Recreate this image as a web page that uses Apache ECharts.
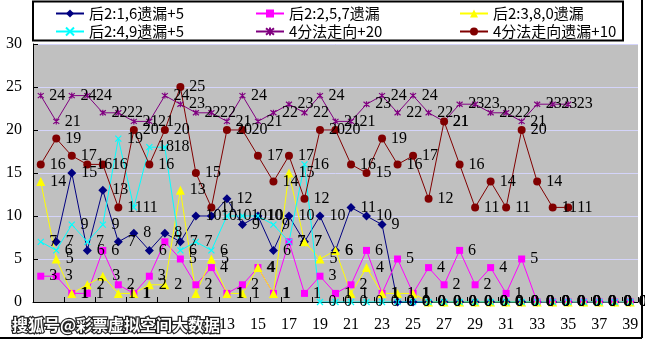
<!DOCTYPE html>
<html>
<head>
<meta charset="utf-8">
<script src="https://cdn.jsdelivr.net/npm/echarts@6/dist/echarts.min.js"></script>
<style>
  html, body { margin: 0; padding: 0; background: #fff; }
  #chart { width: 645px; height: 341px; }
</style>
</head>
<body>
<div id="chart"></div>
<script>
// Periods 1..39
const categories = Array.from({ length: 39 }, (_, i) => String(i + 1));

const seriesNames = [
  '后2:1,6遗漏+5',
  '后2:2,5,7遗漏',
  '后2:3,8,0遗漏',
  '后2:4,9遗漏+5',
  '4分法走向+20',
  '4分法走向遗漏+10'
];

const miss16 = [null, 7, 15, 6, 13, 7, 8, 6, 8, 7, 10, 10, 12, 9, 10, 6, 10, 7, 10, 6, 11, 10, 9,
  0, 0, 0, 0, 0, 0, 0, 0, 0, 0, 0, 0, 0, 0, 0, 0];
const miss257 = [3, 3, 1, 1, 6, 2, 1, 3, 7, 5, 2, 4, 1, 2, 4, 1, 7, 1, 3, 1, 2, 6, 1, 5, 1, 4, 2, 6, 2, 4, 1, 5,
  0, 0, 0, 0, 0, 0, 0];
const miss380 = [14, 5, 1, 2, 3, 1, 1, 2, 2, 13, 1, 5, 1, 1, 4, 1, 15, 7, 5, 6, 1, 4, 1, 1, 1,
  0, 0, 0, 0, 0, 0, 0, 0, 0, 0, 0, 0, 0, 0];
const miss49 = [7, 6, 9, 7, 9, 19, 11, 18, 18, 6, 7, 6, 10, 10, 10, 9, 7, 16,
  0, 0, 0, 0, 0, 0, 0, 0, 0, 0, 0, 0, 0, 0, 0, 0, 0, 0, 0, 0, 0];
const trend4 = [24, 21, 24, 24, 22, 22, 21, 21, 24, 23, 22, 22, 21, 24, 21, 22, 23, 22, 24, 21, 21, 23, 24, 22,
  24, 22, 21, 23, 23, 22, 22, 21, 23, 23, 23, null, null, null, null];
const trend4Miss = [16, 19, 17, 16, 16, 11, 20, 16, 20, 25, 15, 11, 20, 20, 17, 14, 17, 12, 20, 20, 16, 15, 19, 16,
  17, 12, 21, 16, 11, 14, 11, 20, 14, 11, 11, null, null, null, null];

const yTicks = { min: 0, max: 30, step: 5 };

const LABEL_FONT = '"Liberation Serif", serif';
const CJK_FONT = '"Noto Sans CJK SC", sans-serif';

const xMark = 'path://M0,0L10,10M10,0L0,10';
const starMark = 'path://M0,0L10,10M10,0L0,10M5,-1L5,11';

function lineSeries(name, data, color, symbol, size, stroked) {
  return {
    name: name,
    type: 'line',
    data: data,
    symbol: symbol,
    symbolSize: size,
    showAllSymbol: true,
    connectNulls: false,
    animation: false,
    lineStyle: { color: color, width: 1 },
    itemStyle: stroked
      ? { color: 'rgba(0,0,0,0)', borderColor: color, borderWidth: 1.2 }
      : { color: color, borderWidth: 0 },
    emphasis: { disabled: true },
    label: {
      show: true,
      position: 'right',
      distance: 5,
      color: '#000',
      fontSize: 16,
      fontFamily: LABEL_FONT,
      formatter: p => (p.value == null ? '' : String(p.value))
    }
  };
}

const chart = echarts.init(document.getElementById('chart'), null, { renderer: 'canvas' });

const legendText = { fontSize: 15, fontFamily: CJK_FONT, color: '#000', lineHeight: 17 };
function legendCol(left, names) {
  return {
    data: names,
    orient: 'vertical',
    left: left,
    top: 5,
    itemGap: 1,
    itemWidth: 28,
    itemHeight: 10,
    padding: 0,
    selectedMode: false,
    textStyle: legendText
  };
}

chart.setOption({
  backgroundColor: '#fff',
  animation: false,
  grid: { left: 33, right: 7, top: 44, bottom: 39, show: true, backgroundColor: '#c0c0c0', borderWidth: 0 },
  legend: [
    legendCol(55, [seriesNames[0], seriesNames[3]]),
    legendCol(255, [seriesNames[1], seriesNames[4]]),
    legendCol(459, [seriesNames[2], seriesNames[5]])
  ],
  xAxis: {
    type: 'category',
    data: categories,
    boundaryGap: true,
    axisLine: { lineStyle: { color: '#000', width: 1 } },
    axisTick: { show: true, inside: true, length: 5, lineStyle: { color: '#000' } },
    axisLabel: { interval: 1, margin: 15, fontSize: 16, fontFamily: LABEL_FONT, color: '#000' },
    splitLine: { show: false }
  },
  yAxis: {
    type: 'value',
    min: yTicks.min,
    max: yTicks.max,
    interval: yTicks.step,
    axisLine: { show: true, lineStyle: { color: '#000', width: 1 } },
    axisTick: { show: true, inside: true, length: 5, lineStyle: { color: '#000' } },
    axisLabel: { margin: 11, fontSize: 16, fontFamily: LABEL_FONT, color: '#000' },
    splitLine: { show: true, lineStyle: { color: '#d4d4fa', width: 1 } }
  },
  series: [
    lineSeries(seriesNames[0], miss16, '#000080', 'diamond', 9, false),
    lineSeries(seriesNames[1], miss257, '#ff00ff', 'rect', 7, false),
    lineSeries(seriesNames[2], miss380, '#ffff00', 'triangle', 9, false),
    lineSeries(seriesNames[3], miss49, '#00ffff', xMark, 6, true),
    lineSeries(seriesNames[4], trend4, '#800080', starMark, 6, true),
    lineSeries(seriesNames[5], trend4Miss, '#800000', 'circle', 8, false)
  ],
  graphic: [
    // legend frame
    { type: 'rect', z: 0, silent: true,
      shape: { x: 33, y: 1.5, width: 590, height: 39 },
      style: { fill: 'rgba(0,0,0,0)', stroke: '#000', lineWidth: 2 } },
    // outer frame, right and bottom edges
    { type: 'line', silent: true, z: 100,
      shape: { x1: 642, y1: 0, x2: 642, y2: 338 }, style: { stroke: '#000', lineWidth: 2 } },
    { type: 'line', silent: true, z: 100,
      shape: { x1: 0, y1: 338, x2: 642, y2: 338 }, style: { stroke: '#000', lineWidth: 2 } },
    // watermark strip
    { type: 'rect', silent: true, z: 100,
      shape: { x: 0, y: 312, width: 213, height: 25 },
      style: { fill: '#fff' } },
    { type: 'text', silent: true, z: 101,
      x: 12, y: 325,
      style: { text: '搜狐号@彩票虚拟空间大数据', fill: '#fff', stroke: '#222', lineWidth: 2.5,
        font: 'bold 16px "Noto Sans CJK SC", sans-serif', verticalAlign: 'middle', align: 'left' } }
  ]
});
</script>
</body>
</html>
